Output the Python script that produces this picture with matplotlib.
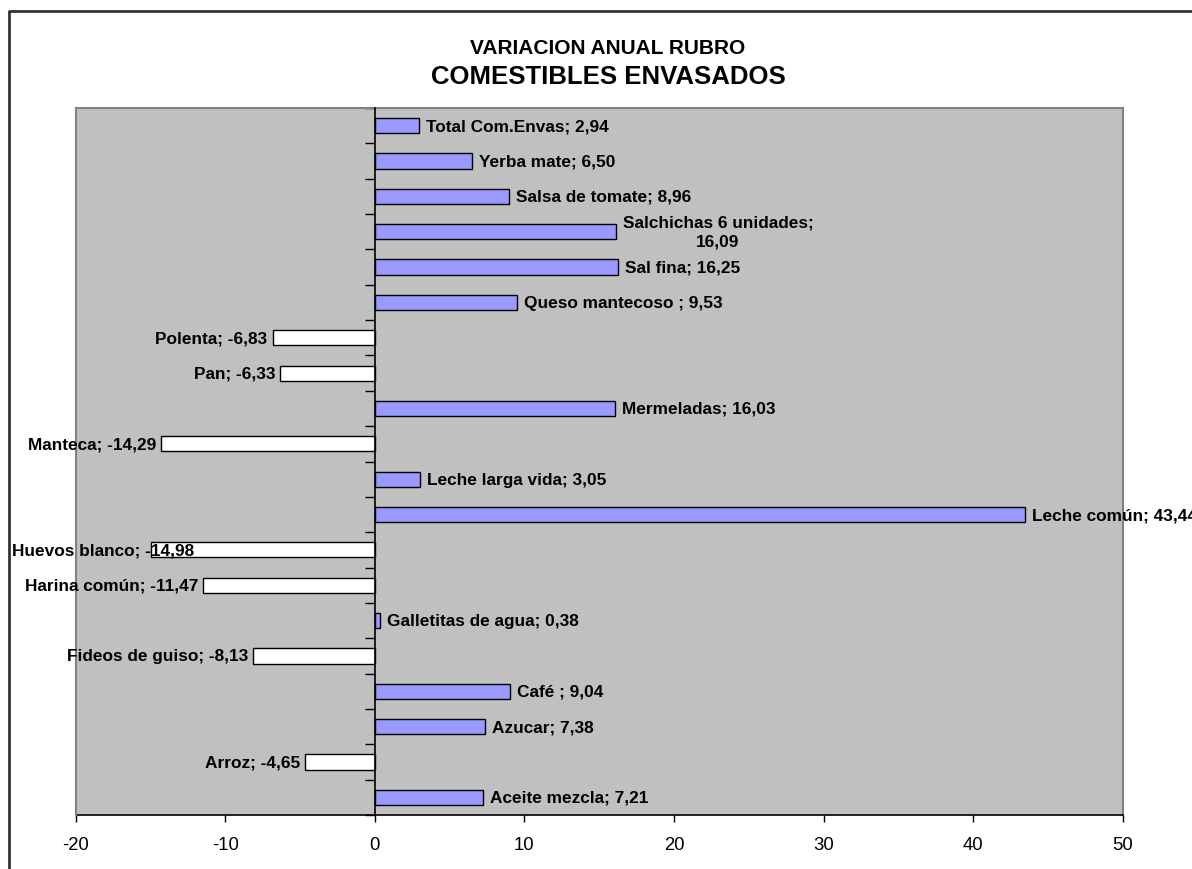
import numpy as np
import matplotlib
matplotlib.use("Agg")
import matplotlib.pyplot as plt
from matplotlib.lines import Line2D

plt.rcParams['font.family'] = ['Liberation Sans', 'DejaVu Sans']

# datos (de abajo hacia arriba, como en el grafico original)
productos = ["Aceite mezcla", "Arroz", "Azucar", "Café ", "Fideos de guiso",
             "Galletitas de agua", "Harina común", "Huevos blanco", "Leche común",
             "Leche larga vida", "Manteca", "Mermeladas", "Pan", "Polenta",
             "Queso mantecoso ", "Sal fina", "Salchichas 6 unidades",
             "Salsa de tomate", "Yerba mate", "Total Com.Envas"]
variacion = [7.21, -4.65, 7.38, 9.04, -8.13, 0.38, -11.47, -14.98, 43.44, 3.05,
             -14.29, 16.03, -6.33, -6.83, 9.53, 16.25, 16.09, 8.96, 6.50, 2.94]
partidos = ["Salchichas 6 unidades"]   # etiqueta en dos lineas
xticks = [-20, -10, 0, 10, 20, 30, 40, 50]

W, H = 1192, 870
fig = plt.figure(figsize=(W/100, H/100), dpi=100)
ax = fig.add_axes([75.5/W, 1 - 816/H, (1123 - 75.5)/W, (816 - 109)/H])
ax.set_facecolor('#C0C0C0')

y = np.arange(len(productos))
colores = ['#9999FF' if v >= 0 else 'white' for v in variacion]
ax.barh(y, variacion, height=0.43, color=colores, edgecolor='black', linewidth=1.0, zorder=3)

ax.set_xlim(-20, 50)
ax.set_ylim(-0.5, len(productos) - 0.5)
ax.set_xticks(xticks)
ax.set_xticklabels([str(t) for t in xticks], fontsize=13.3)
ax.tick_params(axis='x', direction='out', length=5, width=1, pad=10, colors='black')

# eje vertical en cero con marcas entre categorias
ax.spines['left'].set_position(('data', 0))
ax.spines['left'].set_color('black')
ax.spines['left'].set_linewidth(1.2)
ax.spines['left'].set_zorder(4)
ax.set_yticks(np.arange(len(productos) + 1) - 0.5)
ax.set_yticklabels([])
ax.tick_params(axis='y', direction='out', length=7.5, width=1, colors='black')
ax.spines['bottom'].set_color('black')
ax.spines['bottom'].set_linewidth(1.2)
for s in ['top', 'right']:
    ax.spines[s].set_color('#808080')
    ax.spines[s].set_linewidth(1.5)
ax.plot([0, 0], [0, 1], transform=ax.transAxes, color='#808080', lw=1.5, clip_on=False, zorder=5)

# etiquetas de datos
textos = []
for i, (nombre, v) in enumerate(zip(productos, variacion)):
    valor = f"{v:.2f}".replace('.', ',')
    sep = ";\n" if nombre in partidos else "; "
    etiqueta = nombre + sep + valor
    if v >= 0:
        t = ax.annotate(etiqueta, xy=(v, i), xytext=(7, 0), textcoords='offset pixels',
                        ha='left', va='center', multialignment='center',
                        fontsize=12.4, fontweight='bold', linespacing=1.35, zorder=6)
    else:
        t = ax.annotate(etiqueta, xy=(v, i), xytext=(-5, 0), textcoords='offset pixels',
                        ha='right', va='center', fontsize=12.4, fontweight='bold', zorder=6)
    textos.append(t)

# si la etiqueta se sale por la izquierda, se corre hacia adentro (como Excel)
fig.canvas.draw()
r = fig.canvas.get_renderer()
for t in textos:
    bb = t.get_window_extent(r)
    if bb.x0 < 12:
        t.xyann = (t.xyann[0] + (12 - bb.x0), 0)

# titulo
fig.text(608/W, 1 - 49/H, "VARIACION ANUAL RUBRO", ha='center', va='center',
         fontsize=15, fontweight='bold')
fig.text(608/W, 1 - 77/H, "COMESTIBLES ENVASADOS", ha='center', va='center',
         fontsize=18.5, fontweight='bold')

# marco del grafico (cortado a la derecha y abajo)
fig.add_artist(Line2D([8.5/W, 8.5/W, 1.01], [-0.01, 1 - 12/H, 1 - 12/H],
                      transform=fig.transFigure, color='#333333', lw=2))

fig.savefig("out.png", dpi=100)
